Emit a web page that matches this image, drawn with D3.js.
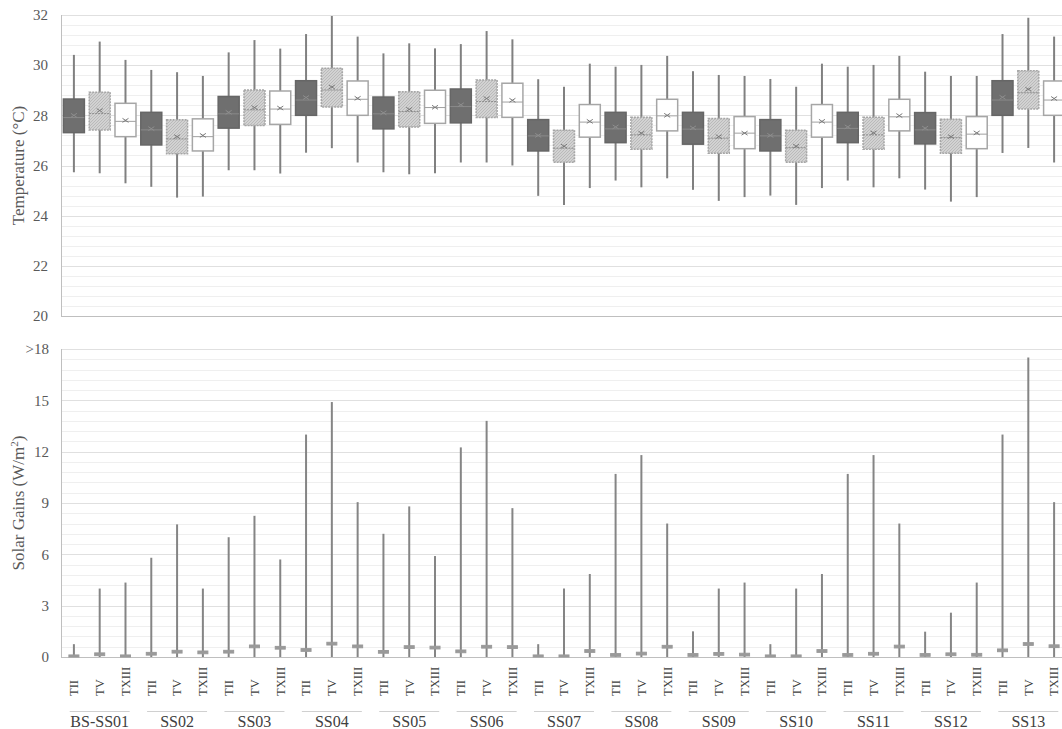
<!DOCTYPE html>
<html>
<head>
<meta charset="utf-8">
<script src="https://cdn.jsdelivr.net/npm/d3@7"></script>
<style>
  html, body { margin: 0; padding: 0; background: #fff; }
  svg { display: block; }
  text { font-family: "Liberation Serif", "Times New Roman", serif; }
</style>
</head>
<body>
<svg id="chart" width="1062" height="729"></svg>
<script>
// ---------- DATA ----------
const categories = ["BS-SS01","SS02","SS03","SS04","SS05","SS06","SS07","SS08","SS09","SS10","SS11","SS12","SS13"];
const series = ["TII","TV","TXIII"];

// Temperature (°C) box statistics, ordered category by category, series TII, TV, TXIII
const tempMin = [25.73,25.69,25.29, 25.15,24.72,24.76, 25.81,25.81,25.68, 26.51,26.69,26.12, 25.73,25.65,25.69,
  26.12,26.12,26.00, 24.79,24.43,25.10, 25.40,25.13,25.49, 25.03,24.59,24.74, 24.80,24.43,25.10,
  25.40,25.13,25.49, 25.04,24.56,24.74, 26.50,26.70,26.12];
const tempQ1 = [27.31,27.42,27.15, 26.82,26.47,26.58, 27.49,27.59,27.64, 28.00,28.33,28.00, 27.46,27.53,27.68,
  27.70,27.91,27.92, 26.58,26.13,27.13, 26.91,26.65,27.38, 26.85,26.49,26.67, 26.58,26.13,27.13,
  26.91,26.65,27.38, 26.86,26.49,26.67, 28.00,28.25,28.00];
const tempMedian = [27.91,28.07,27.76, 27.42,27.06,27.15, 28.06,28.22,28.25, 28.61,29.01,28.64, 28.06,28.15,28.31,
  28.35,28.55,28.53, 27.18,26.69,27.73, 27.46,27.22,27.98, 27.45,27.09,27.29, 27.18,26.71,27.73,
  27.48,27.22,27.94, 27.42,27.11,27.25, 28.61,28.90,28.61];
const tempQ3 = [28.65,28.92,28.48, 28.12,27.82,27.86, 28.75,29.01,28.97, 29.38,29.88,29.37, 28.73,28.94,29.00,
  29.05,29.41,29.28, 27.83,27.41,28.43, 28.12,27.92,28.64, 28.12,27.87,27.95, 27.83,27.41,28.43,
  28.12,27.92,28.64, 28.11,27.84,27.95, 29.38,29.78,29.37];
const tempMax = [30.41,30.94,30.21, 29.81,29.72,29.57, 30.51,31.00,30.66, 31.24,31.96,31.14, 30.47,30.87,30.67,
  30.84,31.36,31.03, 29.44,29.14,30.06, 29.94,30.01,30.37, 29.76,29.61,29.57, 29.45,29.14,30.06,
  29.94,30.01,30.37, 29.74,29.57,29.57, 31.24,31.89,31.14];
const tempMean = [28.00,28.19,27.80, 27.47,27.15,27.20, 28.12,28.31,28.29, 28.71,29.13,28.68, 28.10,28.24,28.32,
  28.42,28.67,28.60, 27.20,26.77,27.76, 27.54,27.29,28.00, 27.50,27.15,27.29, 27.20,26.77,27.76,
  27.54,27.30,27.99, 27.49,27.15,27.30, 28.72,29.04,28.67];

// Solar gains (W/m²) box statistics
const solarMin = [0,0,0, 0,0,0, 0,0,0, 0,0,0, 0,0,0, 0,0,0, 0,0,0, 0,0,0, 0,0,0, 0,0,0, 0,0,0, 0,0,0, 0,0,0];
const solarQ1 = [0,0.08,0, 0.11,0.23,0.19, 0.23,0.54,0.46, 0.33,0.70,0.54, 0.22,0.50,0.47, 0.25,0.52,0.50,
  0,0,0.27, 0.04,0.12,0.52, 0.04,0.10,0.06, 0,0,0.27, 0.04,0.11,0.53, 0.04,0.08,0.05, 0.31,0.68,0.55];
const solarQ3 = [0.12,0.24,0.12, 0.27,0.39,0.35, 0.39,0.70,0.62, 0.49,0.86,0.70, 0.38,0.66,0.63, 0.41,0.68,0.66,
  0.12,0.12,0.43, 0.20,0.28,0.68, 0.20,0.26,0.22, 0.12,0.12,0.43, 0.20,0.27,0.69, 0.20,0.24,0.21, 0.47,0.84,0.71];
const solarMax = [0.75,4.0,4.35, 5.8,7.75,4.0, 7.0,8.25,5.7, 13.0,14.9,9.05, 7.2,8.8,5.9, 12.25,13.8,8.7,
  0.75,4.0,4.85, 10.7,11.8,7.8, 1.5,4.0,4.35, 0.75,4.0,4.85, 10.7,11.8,7.8, 1.48,2.59,4.35, 13.0,17.5,9.05];

const tempTicks = [20,22,24,26,28,30,32];
const solarTicks = [0,3,6,9,12,15,18];
const solarTickLabels = ["0","3","6","9","12","15",">18"];

// ---------- LAYOUT ----------
const svg = d3.select("#chart");
const left = 61, right = 1067;
const n = categories.length * series.length;
const idx = d3.range(n);

const x = d3.scaleBand().domain(idx).range([left, right]).padding(0);
const bw = x.bandwidth();

const yT = d3.scaleLinear().domain([20, 32]).range([316, 15]);
const yS = d3.scaleLinear().domain([0, 18]).range([657, 349]);

const defs = svg.append("defs");
const pat = defs.append("pattern").attr("id", "hatch").attr("patternUnits", "userSpaceOnUse")
  .attr("width", 3).attr("height", 3);
pat.append("rect").attr("width", 3).attr("height", 3).attr("fill", "#d2d2d2");
pat.append("path").attr("d", "M0,3 L3,0 M-1,1 L1,-1 M2,4 L4,2").attr("stroke", "#b4b4b4").attr("stroke-width", 0.8);

// gridlines
function grid(scale, minorStep, majorStep, lo, hi) {
  const g = svg.append("g");
  const minor = d3.range(lo, hi + 1e-9, minorStep);
  g.selectAll("line.minor").data(minor).join("line")
    .attr("x1", left).attr("x2", right)
    .attr("y1", d => Math.round(scale(d)) + 0.5).attr("y2", d => Math.round(scale(d)) + 0.5)
    .attr("stroke", "#efefef").attr("stroke-width", 1);
  const major = d3.range(lo, hi + 1e-9, majorStep);
  g.selectAll("line.major").data(major).join("line")
    .attr("x1", left).attr("x2", right)
    .attr("y1", d => Math.round(scale(d)) + 0.5).attr("y2", d => Math.round(scale(d)) + 0.5)
    .attr("stroke", "#e0e0e0").attr("stroke-width", 1);
}
grid(yT, 0.4, 2, 20, 32);
grid(yS, 0.6, 3, 0, 18);

// axis lines
const axisColor = "#bfbfbf";
svg.append("line").attr("x1", left + 0.5).attr("x2", left + 0.5).attr("y1", yT(32)).attr("y2", yT(20)).attr("stroke", axisColor);
svg.append("line").attr("x1", left).attr("x2", right).attr("y1", yT(20) + 0.5).attr("y2", yT(20) + 0.5).attr("stroke", axisColor);
svg.append("line").attr("x1", left + 0.5).attr("x2", left + 0.5).attr("y1", yS(18)).attr("y2", yS(0)).attr("stroke", axisColor);
svg.append("line").attr("x1", left).attr("x2", right).attr("y1", yS(0) + 0.5).attr("y2", yS(0) + 0.5).attr("stroke", axisColor);

// y axes
const tickColor = "#595959";
const gyT = svg.append("g").attr("transform", `translate(${left},0)`)
  .call(d3.axisLeft(yT).tickValues(tempTicks).tickSize(0).tickPadding(13));
gyT.select(".domain").remove();
gyT.selectAll("text").attr("font-size", 15).attr("fill", tickColor).style("font-family", "Liberation Serif");

const gyS = svg.append("g").attr("transform", `translate(${left},0)`)
  .call(d3.axisLeft(yS).tickValues(solarTicks).tickFormat((d, i) => solarTickLabels[i]).tickSize(0).tickPadding(12));
gyS.select(".domain").remove();
gyS.selectAll("text").attr("font-size", 15).attr("fill", tickColor).style("font-family", "Liberation Serif");

// axis titles
svg.append("text").attr("transform", `translate(24,${(yT(20) + yT(32)) / 2}) rotate(-90)`)
  .attr("text-anchor", "middle").attr("font-size", 17).attr("fill", tickColor).text("Temperature (°C)");
const st = svg.append("text").attr("transform", `translate(24,${(yS(0) + yS(18)) / 2}) rotate(-90)`)
  .attr("text-anchor", "middle").attr("font-size", 17).attr("fill", tickColor);
st.append("tspan").text("Solar Gains (W/m");
st.append("tspan").attr("font-size", 11).attr("dy", -6).text("2");
st.append("tspan").attr("dy", 6).text(")");

// ---------- TEMPERATURE BOXES ----------
const styles = [
  { fill: "#6f6f6f", stroke: "#666666", dash: null, med: "#8a8a8a", mean: "#8e8e8e" },
  { fill: "url(#hatch)", stroke: "#a6a6a6", dash: "2,1", med: "#8c8c8c", mean: "#7a7a7a" },
  { fill: "#ffffff", stroke: "#a6a6a6", dash: null, med: "#a0a0a0", mean: "#7a7a7a" }
];
const whiskerColor = "#808080";
const tw = 21;
const gT = svg.append("g");
idx.forEach(i => {
  const cx = x(i) + bw / 2;
  const s = styles[i % 3];
  gT.append("line").attr("x1", cx).attr("x2", cx).attr("y1", yT(tempMax[i])).attr("y2", yT(tempMin[i]))
    .attr("stroke", whiskerColor).attr("stroke-width", 2);
  gT.append("rect").attr("x", cx - tw / 2).attr("width", tw)
    .attr("y", yT(tempQ3[i])).attr("height", yT(tempQ1[i]) - yT(tempQ3[i]))
    .attr("fill", s.fill).attr("stroke", s.stroke).attr("stroke-width", 1.5)
    .attr("stroke-dasharray", s.dash);
  gT.append("line").attr("x1", cx - tw / 2).attr("x2", cx + tw / 2)
    .attr("y1", yT(tempMedian[i])).attr("y2", yT(tempMedian[i]))
    .attr("stroke", s.med).attr("stroke-width", 1).attr("stroke-dasharray", i % 3 === 1 ? "2,1" : null);
  const my = yT(tempMean[i]);
  gT.append("path").attr("d", `M${cx - 3},${my - 2}L${cx + 3},${my + 2}M${cx - 3},${my + 2}L${cx + 3},${my - 2}`)
    .attr("stroke", s.mean).attr("stroke-width", 1).attr("fill", "none");
});

// ---------- SOLAR BOXES ----------
const sw = 10;
const gS = svg.append("g");
idx.forEach(i => {
  const cx = x(i) + bw / 2;
  gS.append("line").attr("x1", cx).attr("x2", cx).attr("y1", yS(solarMax[i])).attr("y2", yS(solarMin[i]))
    .attr("stroke", "#858585").attr("stroke-width", 2);
  gS.append("rect").attr("x", cx - sw / 2).attr("width", sw)
    .attr("y", yS(solarQ3[i])).attr("height", Math.max(1, yS(solarQ1[i]) - yS(solarQ3[i])))
    .attr("fill", "#9a9a9a").attr("stroke", "#9a9a9a").attr("stroke-width", 1);
});

// ---------- X AXIS (bottom) ----------
const gx = svg.append("g").attr("transform", `translate(0,${yS(0)})`)
  .call(d3.axisBottom(x).tickFormat(i => series[i % 3]).tickSize(0));
gx.select(".domain").remove();
gx.selectAll("text")
  .attr("transform", "rotate(-90)")
  .attr("x", -39).attr("y", 0).attr("dy", "0.35em")
  .attr("text-anchor", "start")
  .attr("font-size", 12.5).attr("fill", "#404040")
  .style("font-family", "Liberation Serif");

// group separators and labels
const gG = svg.append("g");
categories.forEach((c, g) => {
  const x0 = x(g * 3), x1 = x(g * 3 + 2) + bw;
  const cx = (x0 + x1) / 2;
  gG.append("line").attr("x1", cx - 30).attr("x2", cx + 30).attr("y1", 711.5).attr("y2", 711.5)
    .attr("stroke", "#d0d0d0").attr("stroke-width", 1);
  gG.append("text").attr("x", cx).attr("y", 727).attr("text-anchor", "middle")
    .attr("font-size", 16).attr("fill", "#404040").text(c);
});
</script>
</body>
</html>
